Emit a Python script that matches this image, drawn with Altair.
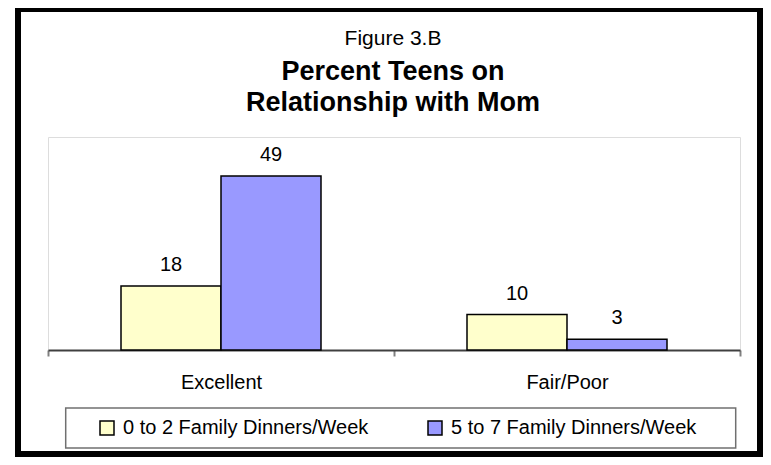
import altair as alt
import pandas as pd

categories = ["Excellent", "Fair/Poor"]
series = ["0 to 2 Family Dinners/Week", "5 to 7 Family Dinners/Week"]
values_0to2 = [18, 10]
values_5to7 = [49, 3]
figure_label = ["Figure 3.B"]
title_line1 = ["Percent Teens on"]
title_line2 = ["Relationship with Mom"]
colors = ["#FFFFCC", "#9999FF"]

rows = []
for i, c in enumerate(categories):
    rows.append({"category": c, "series": series[0], "value": values_0to2[i]})
    rows.append({"category": c, "series": series[1], "value": values_5to7[i]})
df = pd.DataFrame(rows)

W, H = 692, 213
FONT = "Liberation Sans"

x = alt.X(
    "category:N", sort=categories,
    scale=alt.Scale(paddingInner=0, paddingOuter=0),
    axis=alt.Axis(title=None, labelAngle=0, labelFontSize=20, labelFont=FONT,
                  labelColor="black", labelPadding=16, domainColor="#404040",
                  domainWidth=2, tickColor="#808080", tickWidth=2, tickSize=6,
                  tickBand="extent"),
)
xo = alt.XOffset("series:N", sort=series,
                 scale=alt.Scale(paddingInner=0, paddingOuter=0.73))
y = alt.Y("value:Q", scale=alt.Scale(domain=[0, 60]), axis=None)
color = alt.Color(
    "series:N", sort=series,
    scale=alt.Scale(domain=series, range=colors),
    legend=alt.Legend(title=None, orient="none", legendX=49, legendY=281,
                      direction="horizontal", symbolType="square",
                      symbolSize=196, symbolStrokeColor="black",
                      symbolStrokeWidth=1.5, labelFontSize=20, labelFont=FONT,
                      labelColor="black", labelOffset=6, columnPadding=56,
                      labelLimit=400, padding=0),
)

base = alt.Chart(df)
bars = base.mark_bar(stroke="black", strokeWidth=1.5).encode(
    x=x, xOffset=xo, y=y, color=color)
labels = base.mark_text(dy=-15, baseline="alphabetic", fontSize=20,
                        font=FONT, color="black").encode(
    x=x, xOffset=xo, y=y, text="value:Q")

one = pd.DataFrame({"a": [0]})
outer = alt.Chart(one).mark_rect(filled=False, stroke="black", strokeWidth=6).encode(
    x=alt.value(-30), x2=alt.value(712), y=alt.value(-128), y2=alt.value(317))
legend_box = alt.Chart(one).mark_rect(filled=False, stroke="#707070", strokeWidth=1.5).encode(
    x=alt.value(17.7), x2=alt.value(687.7), y=alt.value(271), y2=alt.value(311))

t0 = alt.Chart(pd.DataFrame({"t": figure_label})).mark_text(
    fontSize=21, font=FONT, color="black", baseline="alphabetic").encode(
    x=alt.value(345), y=alt.value(-92), text="t:N")
t1 = alt.Chart(pd.DataFrame({"t": title_line1})).mark_text(
    fontSize=27, font=FONT, fontWeight="bold", color="black", baseline="alphabetic").encode(
    x=alt.value(345), y=alt.value(-57), text="t:N")
t2 = alt.Chart(pd.DataFrame({"t": title_line2})).mark_text(
    fontSize=27, font=FONT, fontWeight="bold", color="black", baseline="alphabetic").encode(
    x=alt.value(345), y=alt.value(-26), text="t:N")

chart = alt.layer(bars, labels, legend_box, t0, t1, t2, outer).properties(
    width=W, height=H,
    autosize=alt.AutoSizeParams(type="none"),
    padding={"left": 40, "top": 129, "right": 23, "bottom": 107},
).configure_view(stroke="#808080", strokeWidth=2).configure(background="white")

chart.save("out.html", embed_options={"renderer": "svg", "actions": False})
